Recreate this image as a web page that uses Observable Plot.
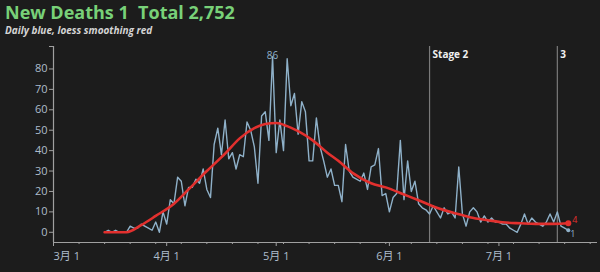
<!DOCTYPE html>
<html><head><meta charset="utf-8">
<script src="https://cdn.jsdelivr.net/npm/d3@7"></script>
<script src="https://cdn.jsdelivr.net/npm/@observablehq/plot@0.6"></script>
<style>
body{margin:0;background:#1c1c1c;width:600px;height:272px;overflow:hidden;font-family:"Open Sans","Noto Sans CJK SC",sans-serif;position:relative;}
#title{position:absolute;left:5px;top:1px;font-size:18px;font-weight:700;color:#78d178;line-height:22px;white-space:pre;}
#sub{position:absolute;left:5px;top:24px;font-size:10px;font-weight:700;font-style:italic;color:#d4d4d4;line-height:12px;white-space:pre;}
#chart{position:absolute;left:0;top:38px;}
</style></head><body>
<div id="title"></div><div id="sub"></div><div id="chart"></div>
<script>
const titleText = "New Deaths 1  Total 2,752";
const subtitleText = "Daily blue, loess smoothing red";
const startDate = "2020-03-15";
const dailyDeaths = [
  0,1,0,1,0,0,0,3,2,2,
  4,3,2,1,5,0,10,4,16,14,
  27,25,13,22,22,26,24,31,21,17,
  43,51,38,55,36,39,31,38,37,54,
  50,42,24,57,59,45,86,39,55,40,
  85,62,68,48,64,59,35,35,56,42,
  35,27,31,23,23,15,43,30,27,26,
  25,29,21,32,33,41,18,19,10,17,
  19,45,16,35,20,25,14,12,11,9,
  13,10,7,12,9,10,7,32,9,3,
  10,12,10,5,8,5,7,5,5,4,
  4,2,1,0,4,9,4,7,5,4,
  3,5,9,5,10,3,2,1
];
const smoothDates = ["2020-03-15","2020-03-21","2020-03-25","2020-03-29","2020-04-03","2020-04-07","2020-04-12","2020-04-17","2020-04-21","2020-04-25","2020-04-28","2020-05-01","2020-05-04","2020-05-07","2020-05-11","2020-05-15","2020-05-18","2020-05-22","2020-05-27","2020-05-31","2020-06-05","2020-06-09","2020-06-14","2020-06-19","2020-06-23","2020-06-28","2020-07-02","2020-07-07","2020-07-11","2020-07-16","2020-07-20"];
const smoothValues = [0,0,3.5,8,14,21,30,38.5,46,51,53,53.5,52,49.5,45,39,35,29,24,22,18.5,15.7,12,9.3,7.4,5.9,4.9,4.4,4.1,4.1,4.4];
const stageDates = ["2020-06-12","2020-07-17"];
const stageLabels = ["Stage 2","3"];
const monthTicks = ["2020-03-01","2020-04-01","2020-05-01","2020-06-01","2020-07-01"];
const monthLabels = ["3月 1","4月 1","5月 1","6月 1","7月 1"];
const yTicks = [0,10,20,30,40,50,60,70,80];
const xDomain = ["2020-03-01","2020-07-28"];
const yDomain = [-5, 91];

document.getElementById("title").textContent = titleText;
document.getElementById("sub").textContent = subtitleText;

const D = s => new Date(s + "T00:00Z");
const DAY = 864e5;
const t0 = D(startDate);
const daily = dailyDeaths.map((v, i) => ({date: new Date(+t0 + i * DAY), value: v}));
const smooth = smoothDates.map((d, i) => ({date: D(d), value: smoothValues[i]}));
const stages = stageDates.map((d, i) => ({date: D(d), label: stageLabels[i]}));
const peak = daily.reduce((a, b) => b.value > a.value ? b : a);
const last = daily[daily.length - 1];
const lastSmooth = smooth[smooth.length - 1];
const months = monthTicks.map(D);
const labelMap = new Map(months.map((d, i) => [+d, monthLabels[i]]));
const x0 = D(xDomain[0]), x1 = D(xDomain[1]);
const weeks = d3.utcSunday.range(x0, x1).filter(d => !labelMap.has(+d));

const axisColor = "#a0a0a0";
const labelColor = "#aebdcc";
const blue = "#8fb1c9";
const red = "#e2302e";

const chart = Plot.plot({
  width: 600,
  height: 234,
  marginTop: 8,
  marginBottom: 30,
  marginLeft: 53,
  marginRight: 3,
  style: {background: "transparent", color: labelColor, fontFamily: '"Open Sans","Noto Sans CJK SC",sans-serif', fontSize: "11px"},
  x: {type: "utc", domain: [x0, x1], label: null},
  y: {domain: yDomain, label: null},
  marks: [
    Plot.ruleX(stages, {x: "date", stroke: "#7a7a7a", strokeWidth: 1.2}),
    Plot.text(stages, {x: "date", text: "label", frameAnchor: "top", textAnchor: "start", dx: 3, dy: 4, lineAnchor: "top", fill: "#f0f0f0", fontWeight: "bold", fontSize: 10}),
    Plot.ruleX([x0], {stroke: axisColor, strokeWidth: 1.2}),
    Plot.ruleY([yDomain[0]], {stroke: axisColor, strokeWidth: 1.2}),
    Plot.axisY(yTicks, {tickSize: 4, tickPadding: 2, stroke: axisColor, fill: labelColor, fontSize: 11, label: null}),
    Plot.axisY([yDomain[1]], {tickSize: 4, stroke: axisColor, tickFormat: () => "", label: null}),
    Plot.axisX(weeks, {tickSize: 2, stroke: axisColor, tickFormat: () => "", label: null}),
    Plot.axisX(months.slice(0, 1), {tickSize: 4, tickPadding: 6, stroke: axisColor, fill: labelColor, textAnchor: "start", fontSize: 11, tickFormat: d => labelMap.get(+d), label: null}),
    Plot.axisX(months.slice(1), {tickSize: 4, tickPadding: 6, stroke: axisColor, fill: labelColor, fontSize: 11, tickFormat: d => labelMap.get(+d), label: null}),
    Plot.line(daily, {x: "date", y: "value", stroke: blue, strokeWidth: 1.4}),
    Plot.line(smooth, {x: "date", y: "value", stroke: red, strokeWidth: 2.6, curve: "monotone-x"}),
    Plot.text([peak], {x: "date", y: "value", text: d => String(d.value), fill: blue, fontSize: 10, lineAnchor: "bottom", dy: 2}),
    Plot.dot([lastSmooth], {x: "date", y: "value", r: 3, fill: red}),
    Plot.text([lastSmooth], {x: "date", y: "value", text: d => String(Math.round(d.value)), fill: red, fontSize: 9, textAnchor: "start", dx: 4, dy: -3}),
    Plot.dot([last], {x: "date", y: "value", r: 2, fill: blue}),
    Plot.text([last], {x: "date", y: "value", text: d => String(d.value), fill: blue, fontSize: 9, textAnchor: "start", dx: 2, dy: 4})
  ]
});
document.getElementById("chart").appendChild(chart);
</script>
</body></html>
